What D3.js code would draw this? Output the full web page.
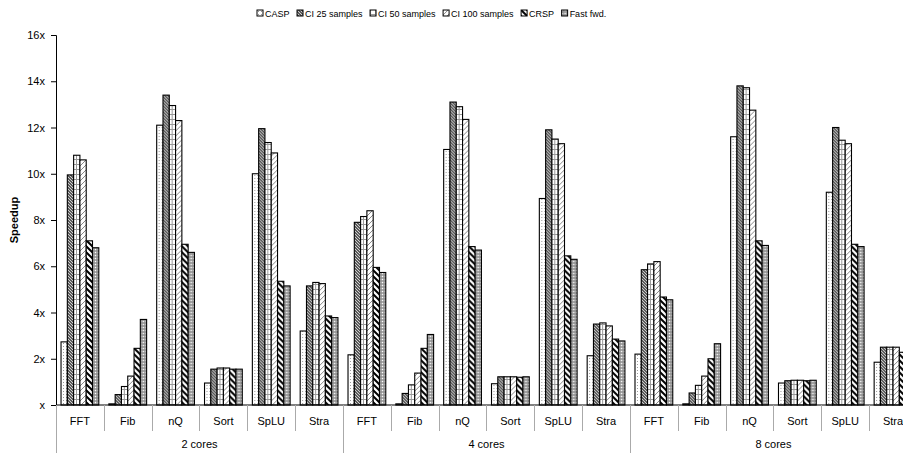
<!DOCTYPE html>
<html>
<head>
<meta charset="utf-8">
<script src="https://d3js.org/d3.v7.min.js"></script>
<style>
  body { margin: 0; background: #fff; }
  svg { display: block; font-family: "Liberation Sans", Arial, sans-serif; }
  .tick text { font-size: 11px; fill: #000; }
</style>
</head>
<body>
<svg id="chart" width="903" height="453"></svg>
<script>
// categories
const benchmarks = ["FFT", "Fib", "nQ", "Sort", "SpLU", "Stra"];
const coreGroups = ["2 cores", "4 cores", "8 cores"];
const seriesNames = ["CASP", "CI 25 samples", "CI 50 samples", "CI 100 samples", "CRSP", "Fast fwd."];
const yTicks = [0, 2, 4, 6, 8, 10, 12, 14, 16];

// speedup per series, 2 cores / 4 cores / 8 cores, benchmarks in order
const casp    = [2.73, 0.05, 12.1, 0.95, 10.0, 3.2,   2.17, 0.05, 11.05, 0.92, 8.93, 2.13,   2.2, 0.05, 11.6, 0.95, 9.2, 1.85];
const ci25    = [9.95, 0.45, 13.4, 1.55, 11.95, 5.15, 7.9, 0.5, 13.1, 1.22, 11.9, 3.5,      5.85, 0.52, 13.8, 1.05, 12.0, 2.5];
const ci50    = [10.8, 0.8, 12.95, 1.6, 11.35, 5.3,   8.15, 0.87, 12.9, 1.22, 11.5, 3.55,   6.1, 0.85, 13.72, 1.07, 11.45, 2.5];
const ci100   = [10.6, 1.25, 12.3, 1.6, 10.9, 5.25,   8.4, 1.38, 12.35, 1.22, 11.3, 3.42,   6.2, 1.25, 12.75, 1.07, 11.3, 2.5];
const crsp    = [7.1, 2.45, 6.95, 1.55, 5.35, 3.85,   5.95, 2.45, 6.85, 1.2, 6.45, 2.85,    4.67, 2.0, 7.1, 1.05, 6.95, 2.28];
const fastFwd = [6.8, 3.7, 6.6, 1.55, 5.15, 3.78,     5.73, 3.05, 6.7, 1.22, 6.3, 2.77,     4.55, 2.65, 6.9, 1.07, 6.85, 2.2];
const seriesValues = [casp, ci25, ci50, ci100, crsp, fastFwd];

const svg = d3.select("#chart");
const left = 56, step = 47.83;
const slots = [];
coreGroups.forEach(g => benchmarks.forEach(b => slots.push(g + "|" + b)));

const x0 = d3.scaleBand().domain(slots).range([left, left + step * slots.length]).padding(0);
const x1 = d3.scaleBand().domain(seriesNames).range([0, x0.bandwidth()]).paddingInner(0).paddingOuter(0.8);
const y = d3.scaleLinear().domain([0, 16]).range([405, 35]);

// patterns
const defs = svg.append("defs");
function pat(id, size, draw) {
  const p = defs.append("pattern").attr("id", id).attr("patternUnits", "userSpaceOnUse")
    .attr("width", size).attr("height", size);
  p.append("rect").attr("width", size).attr("height", size).attr("fill", "#fff");
  draw(p);
}
pat("p0", 3, p => p.append("rect").attr("x", 1).attr("y", 1).attr("width", 1).attr("height", 1).attr("fill", "#999"));
pat("p1", 3, p => {
  p.append("rect").attr("width", 3).attr("height", 3).attr("fill", "#5a5a5a");
  p.append("path").attr("d", "M0,0 L3,3 M-1,2 L1,4 M2,-1 L4,1").attr("stroke", "#eee").attr("stroke-width", 0.8);
});
pat("p2", 5, p => {
  p.append("path").attr("d", "M0,4.5 H5 M0.5,0 V4.5").attr("stroke", "#999").attr("stroke-width", 1);
});
pat("p3", 5, p => {
  p.append("path").attr("d", "M0,5 L5,0 M-1,1 L1,-1 M4,6 L6,4").attr("stroke", "#888").attr("stroke-width", 1);
});
pat("p4", 6, p => {
  p.append("path").attr("d", "M0,0 L6,6 M-3,3 L3,9 M3,-3 L9,3").attr("stroke", "#000").attr("stroke-width", 2);
});
pat("p5", 3, p => {
  p.append("rect").attr("width", 3).attr("height", 3).attr("fill", "#aaa");
  p.append("rect").attr("x", 0).attr("y", 0).attr("width", 1).attr("height", 1).attr("fill", "#fff");
  p.append("rect").attr("x", 1.5).attr("y", 1.5).attr("width", 1).attr("height", 1).attr("fill", "#555");
});
const fills = ["url(#p0)", "url(#p1)", "url(#p2)", "url(#p3)", "url(#p4)", "url(#p5)"];

// bars
const groups = svg.append("g").selectAll("g")
  .data(slots)
  .join("g")
  .attr("transform", d => `translate(${x0(d)},0)`);

groups.selectAll("rect")
  .data((d, i) => seriesNames.map((s, k) => ({ s, k, v: seriesValues[k][i] })))
  .join("rect")
  .attr("x", d => x1(d.s))
  .attr("width", x1.bandwidth())
  .attr("y", d => y(d.v))
  .attr("height", d => y(0) - y(d.v))
  .attr("fill", d => fills[d.k])
  .attr("stroke", "#000")
  .attr("stroke-width", 1.1);

// y axis
const yAxis = svg.append("g")
  .attr("transform", `translate(${left},0)`)
  .call(d3.axisLeft(y).tickValues(yTicks).tickSize(5).tickPadding(6).tickFormat(d => d === 0 ? "x" : d + "x"));
yAxis.select(".domain").attr("stroke", "#000");

svg.append("text")
  .attr("transform", "translate(18,220) rotate(-90)")
  .attr("text-anchor", "middle")
  .attr("font-size", 11)
  .attr("font-weight", "bold")
  .text("Speedup");

// x axis baseline and separators
svg.append("line").attr("x1", left).attr("x2", 903).attr("y1", y(0)).attr("y2", y(0)).attr("stroke", "#000");

const sepG = svg.append("g");
slots.forEach((d, i) => {
  const xs = Math.round(x0(d)) + 0.5;
  const isGroup = i % benchmarks.length === 0;
  sepG.append("line").attr("x1", xs).attr("x2", xs)
    .attr("y1", y(0)).attr("y2", isGroup ? 453 : 431)
    .attr("stroke", "#aaa").attr("stroke-width", 1);
  svg.append("text")
    .attr("x", x0(d) + x0.bandwidth() / 2)
    .attr("y", 425)
    .attr("text-anchor", "middle")
    .attr("font-size", 11)
    .text(d.split("|")[1]);
});

coreGroups.forEach(g => {
  const a = x0(g + "|" + benchmarks[0]);
  const b = x0(g + "|" + benchmarks[benchmarks.length - 1]) + x0.bandwidth();
  svg.append("text")
    .attr("x", (a + b) / 2)
    .attr("y", 448)
    .attr("text-anchor", "middle")
    .attr("font-size", 11)
    .text(g);
});

// legend, laid out left to right
const legend = svg.append("g").attr("transform", "translate(0,10)");
let lx = 257;
seriesNames.forEach((name, i) => {
  const item = legend.append("g").attr("transform", `translate(${lx},0)`);
  item.append("rect")
    .attr("width", 6).attr("height", 6)
    .attr("fill", fills[i])
    .attr("stroke", "#000").attr("stroke-width", 1);
  const t = item.append("text")
    .attr("x", 8).attr("y", 6.5)
    .attr("font-size", 9)
    .text(name);
  lx += 8 + t.node().getComputedTextLength() + 7.5;
});
</script>
</body>
</html>
